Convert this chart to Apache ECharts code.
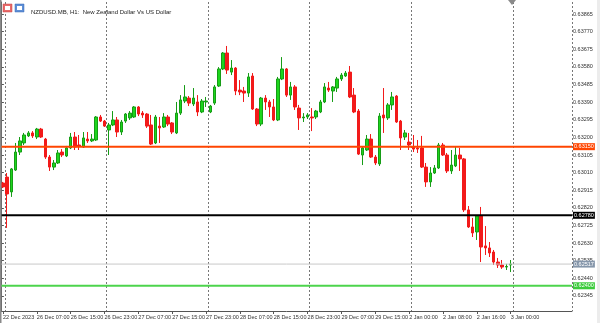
<!DOCTYPE html>
<html><head><meta charset="utf-8">
<script src="https://cdn.jsdelivr.net/npm/echarts@6/dist/echarts.min.js"></script>
<style>html,body{margin:0;padding:0;background:#fff}#c{width:600px;height:323px}</style>
</head><body><div id="c"></div>
<script>
const titleText = 'NZDUSD.MB, H1:  New Zealand Dollar Vs US Dollar';
const xLabels = ['22 Dec 2023','26 Dec 07:00','26 Dec 15:00','26 Dec 23:00','27 Dec 07:00','27 Dec 15:00','27 Dec 23:00','28 Dec 07:00','28 Dec 15:00','28 Dec 23:00','29 Dec 07:00','29 Dec 15:00','2 Jan 00:00','2 Jan 08:00','2 Jan 16:00','3 Jan 00:00'];
const opens = [0.62954,0.62986,0.62906,0.63024,0.63121,0.63170,0.63208,0.63224,0.63202,0.63245,
0.63191,0.63094,0.63040,0.63062,0.63121,0.63100,0.63143,0.63202,0.63159,0.63148,
0.63191,0.63181,0.63186,0.63310,0.63288,0.63240,0.63267,0.63294,0.63229,0.63288,
0.63305,0.63310,0.63364,0.63331,0.63326,0.63267,0.63170,0.63261,0.63256,0.63310,
0.63278,0.63224,0.63331,0.63396,0.63412,0.63380,0.63391,0.63337,0.63391,0.63337,
0.63385,0.63477,0.63569,0.63655,0.63552,0.63574,0.63455,0.63450,0.63439,0.63531,
0.63353,0.63272,0.63412,0.63391,0.63364,0.63294,0.63515,0.63569,0.63428,0.63472,
0.63358,0.63305,0.63310,0.63310,0.63310,0.63337,0.63391,0.63466,0.63450,0.63466,
0.63515,0.63531,0.63552,0.63428,0.63342,0.63105,0.63132,0.63191,0.63094,0.63057,
0.63321,0.63305,0.63375,0.63423,0.63288,0.63202,0.63175,0.63148,0.63143,0.63143,
0.63040,0.62960,0.63008,0.63035,0.63159,0.63105,0.63019,0.63046,0.63105,0.63084,
0.62809,0.62717,0.62690,0.62776,0.62615,0.62604,0.62582,0.62528,0.62512,0.62501,0.62512];
const closes = [0.62933,0.62895,0.63030,0.63121,0.63181,0.63213,0.63224,0.63208,0.63245,0.63202,
0.63094,0.63040,0.63062,0.63116,0.63105,0.63143,0.63202,0.63148,0.63154,0.63197,
0.63181,0.63191,0.63310,0.63288,0.63261,0.63267,0.63294,0.63229,0.63283,0.63326,
0.63331,0.63364,0.63326,0.63321,0.63261,0.63164,0.63310,0.63251,0.63310,0.63272,
0.63229,0.63331,0.63402,0.63418,0.63385,0.63412,0.63337,0.63396,0.63396,0.63369,
0.63472,0.63569,0.63655,0.63563,0.63574,0.63450,0.63445,0.63439,0.63526,0.63353,
0.63272,0.63412,0.63391,0.63364,0.63294,0.63515,0.63569,0.63428,0.63472,0.63364,
0.63305,0.63310,0.63321,0.63305,0.63342,0.63391,0.63472,0.63455,0.63472,0.63515,
0.63536,0.63547,0.63418,0.63337,0.63110,0.63143,0.63191,0.63094,0.63062,0.63315,
0.63305,0.63375,0.63418,0.63283,0.63197,0.63224,0.63159,0.63137,0.63137,0.63040,
0.62960,0.63008,0.63035,0.63159,0.63105,0.63019,0.63051,0.63105,0.63084,0.62809,
0.62717,0.62685,0.62776,0.62609,0.62604,0.62577,0.62528,0.62512,0.62501,0.62504,0.62517];
const lows = [0.62927,0.62712,0.62879,0.63019,0.63105,0.63159,0.63202,0.63197,0.63191,0.63197,
0.63084,0.63019,0.63024,0.63057,0.63094,0.63094,0.63137,0.63132,0.63132,0.63143,
0.63170,0.63175,0.63181,0.63283,0.63256,0.63105,0.63261,0.63202,0.63213,0.63278,
0.63294,0.63305,0.63315,0.63305,0.63251,0.63159,0.63164,0.63170,0.63251,0.63261,
0.63218,0.63218,0.63321,0.63385,0.63369,0.63369,0.63315,0.63331,0.63364,0.63331,
0.63375,0.63472,0.63563,0.63542,0.63536,0.63428,0.63428,0.63391,0.63418,0.63348,
0.63261,0.63261,0.63348,0.63310,0.63288,0.63288,0.63509,0.63418,0.63402,0.63348,
0.63240,0.63283,0.63299,0.63234,0.63299,0.63331,0.63385,0.63445,0.63391,0.63445,
0.63504,0.63526,0.63412,0.63331,0.63105,0.63051,0.63127,0.63089,0.63051,0.63046,
0.63224,0.63294,0.63348,0.63278,0.63132,0.63186,0.63132,0.63121,0.63116,0.63035,
0.62933,0.62933,0.63003,0.63030,0.63100,0.63008,0.63003,0.63040,0.63019,0.62798,
0.62712,0.62663,0.62647,0.62528,0.62566,0.62555,0.62512,0.62496,0.62491,0.62485,0.62474];
const highs = [0.62960,0.63008,0.63035,0.63170,0.63202,0.63224,0.63234,0.63234,0.63251,0.63251,
0.63197,0.63105,0.63078,0.63132,0.63137,0.63154,0.63224,0.63229,0.63213,0.63229,
0.63229,0.63218,0.63315,0.63321,0.63294,0.63278,0.63342,0.63310,0.63294,0.63331,
0.63342,0.63369,0.63369,0.63342,0.63331,0.63321,0.63321,0.63310,0.63331,0.63321,
0.63283,0.63391,0.63428,0.63482,0.63423,0.63466,0.63428,0.63407,0.63418,0.63375,
0.63482,0.63579,0.63660,0.63693,0.63617,0.63579,0.63509,0.63472,0.63547,0.63547,
0.63358,0.63418,0.63428,0.63402,0.63407,0.63526,0.63633,0.63574,0.63499,0.63482,
0.63375,0.63331,0.63331,0.63358,0.63348,0.63402,0.63493,0.63499,0.63477,0.63526,
0.63547,0.63558,0.63585,0.63466,0.63353,0.63148,0.63213,0.63218,0.63105,0.63331,
0.63466,0.63385,0.63445,0.63428,0.63294,0.63240,0.63224,0.63213,0.63186,0.63208,
0.63062,0.63040,0.63051,0.63170,0.63170,0.63116,0.63132,0.63148,0.63143,0.63089,
0.62830,0.62766,0.62776,0.62825,0.62722,0.62636,0.62593,0.62550,0.62539,0.62518,0.62539];
const yTicks = [0.62345,0.62440,0.62535,0.62630,0.62725,0.62820,0.62915,0.63010,0.63105,0.63200,0.63295,0.63390,0.63485,0.63580,0.63675,0.63770,0.63865];
const levelValues = [0.63150, 0.62780, 0.62517, 0.62400];
const yMin = 0.62264, yMax = 0.63930;
const totalSlots = 135;

const levelStyles = [
  {line:'#FF4500', width:2, bg:'#FF4500', fg:'#ffffff'},
  {line:'#000000', width:2, bg:'#000000', fg:'#ffffff'},
  {line:'#C8C8C8', width:1, bg:'#8596AA', fg:'#ffffff'},
  {line:'#4CD44C', width:2, bg:'#3CCB3C', fg:'#ffffff'}
];

const cats = [];
for (let i = 0; i < totalSlots; i++) {
  cats.push(i % 8 === 0 && i / 8 < xLabels.length ? xLabels[i / 8] : 'c' + i);
}
const isLabel = (i) => i % 8 === 0 && i / 8 < xLabels.length;
const candles = opens.map((o, i) => [o, closes[i], lows[i], highs[i]]);

const FONT = 'Liberation Sans';
const levelSeries = levelValues.map((v, k) => ({
  type: 'line', xAxisIndex: 1, data: [[0, v], [1, v]], silent: true, symbol: 'none', showSymbol: false,
  z: 4,
  lineStyle: {color: levelStyles[k].line, width: levelStyles[k].width, type: 'solid'},
  emphasis: {disabled: true},
  endLabel: {
    show: true, distance: 1, formatter: v.toFixed(5),
    backgroundColor: levelStyles[k].bg, color: levelStyles[k].fg,
    fontSize: 5.5, fontFamily: FONT, padding: [1, 1, 0, 1], lineHeight: 6
  }
}));

const chart = echarts.init(document.getElementById('c'), null, {renderer: 'canvas'});
chart.setOption({
  animation: false,
  backgroundColor: '#ffffff',
  title: {
    text: titleText, left: 26, top: 4,
    textStyle: {fontSize: 6, fontWeight: 'normal', color: '#222', fontFamily: FONT}
  },
  grid: {left: 0, right: 28, top: 2, bottom: 12, containLabel: false},
  xAxis: [{
    type: 'category', data: cats, boundaryGap: true,
    axisLine: {show: true, lineStyle: {color: '#555', width: 1}},
    axisTick: {show: true, alignWithLabel: true, length: 3, interval: (i) => isLabel(i), lineStyle: {color: '#555'}},
    axisLabel: {
      show: true, interval: (i) => isLabel(i), align: 'left', margin: 3,
      fontSize: 5.5, color: '#333', fontFamily: FONT
    },
    splitLine: {show: true, interval: (i) => i % 24 === 1, lineStyle: {color: '#777', type: [2, 2], width: 1}}
  }, {
    type: 'value', min: 0, max: 1, show: false
  }],
  yAxis: {
    type: 'value', position: 'right', min: yMin, max: yMax, scale: true,
    axisLine: {show: true, lineStyle: {color: '#555', width: 1}},
    axisTick: {show: true, length: 3, customValues: yTicks, lineStyle: {color: '#555'}},
    axisLabel: {
      show: true, customValues: yTicks, margin: 1, fontSize: 5.5, color: '#333', fontFamily: FONT,
      formatter: (v) => v.toFixed(5)
    },
    splitLine: {show: false}
  },
  series: [{
    type: 'candlestick',
    data: candles,
    barWidth: 3,
    z: 3,
    itemStyle: {
      color: '#1DD61D', borderColor: '#169C16',
      color0: '#F21A1A', borderColor0: '#F21A1A',
      borderWidth: 1
    }
  }].concat(levelSeries),
  graphic: [
    {type: 'rect', shape: {x: 0, y: 0, width: 1.5, height: 323}, style: {fill: '#8a8a8a'}, z: 100},
    {type: 'rect', shape: {x: 597, y: 0, width: 3, height: 323}, style: {fill: '#ececec'}, z: 100},
    {type: 'polygon', shape: {points: [[508, 0], [516, 0], [512, 5]]}, style: {fill: '#8a8a8a'}, z: 100},
    {type: 'rect', shape: {x: 3, y: 4, width: 9, height: 8}, style: {fill: '#E86A6A', stroke: '#C84444', lineWidth: 0.5}, z: 100},
    {type: 'rect', shape: {x: 5, y: 6, width: 5, height: 4}, style: {fill: '#ffffff'}, z: 101},
    {type: 'rect', shape: {x: 15, y: 4, width: 9, height: 8}, style: {fill: '#5E8FD6', stroke: '#3A6AB4', lineWidth: 0.5}, z: 100},
    {type: 'rect', shape: {x: 17, y: 6, width: 5, height: 4}, style: {fill: '#ffffff'}, z: 101}
  ]
});
</script>
</body></html>
